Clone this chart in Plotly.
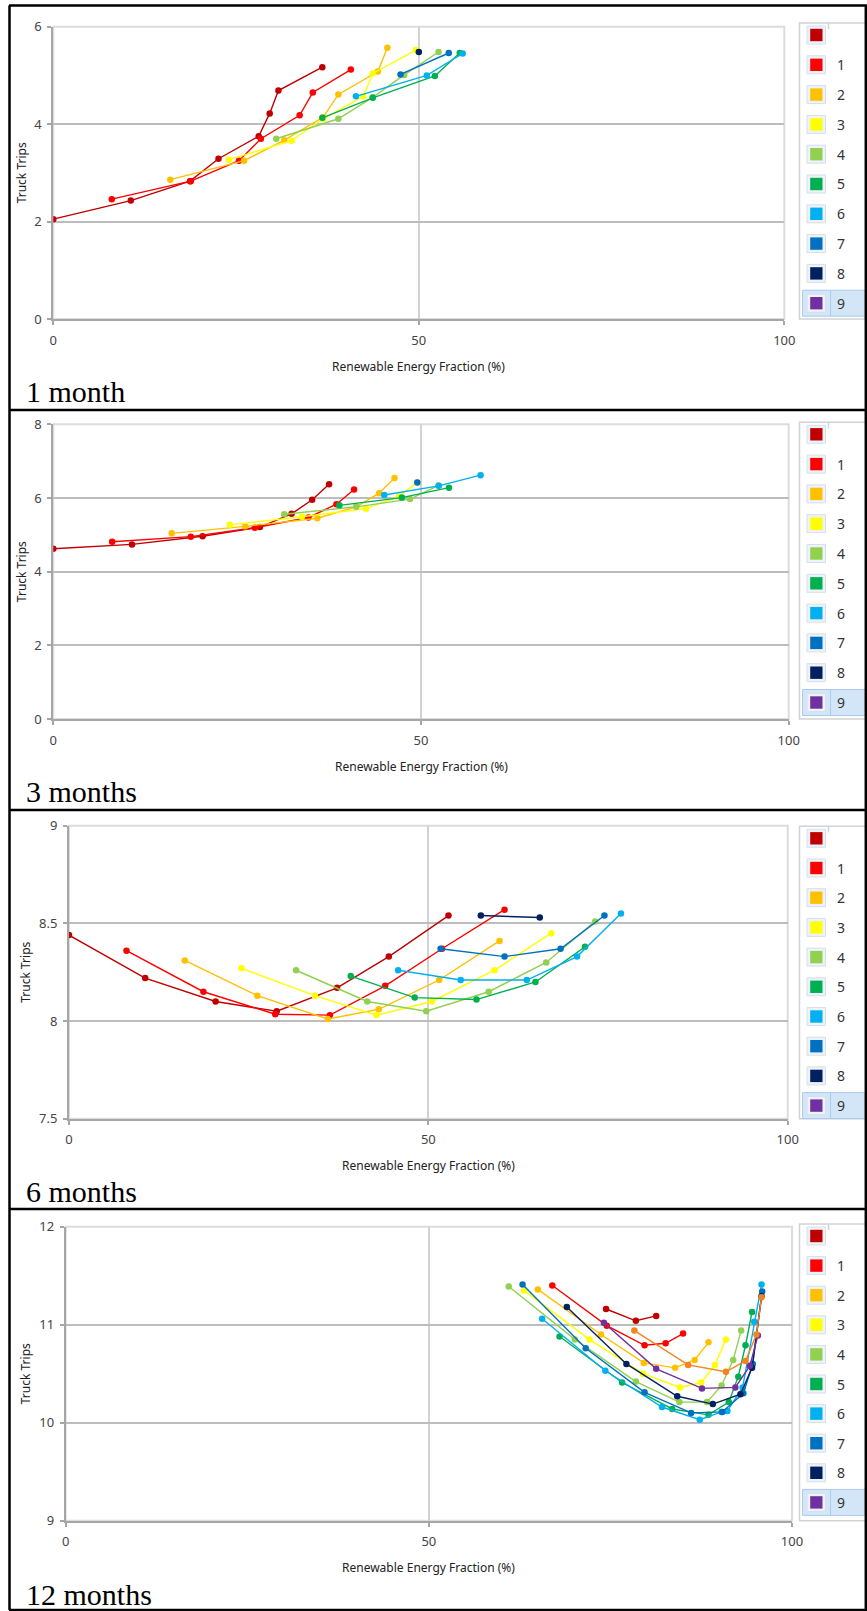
import plotly.graph_objects as go

W, H = 867, 1611

series_colors = ["#C00000", "#FF0000", "#FFC000", "#FFFF00", "#92D050",
                 "#00B050", "#00B0F0", "#0070C0", "#002060", "#7030A0",
                 "#F5841F"]
series_names = ["0", "1", "2", "3", "4", "5", "6", "7", "8", "9", "10"]
legend_labels = ["", "1", "2", "3", "4", "5", "6", "7", "8", "9"]

# ---- 1 month -------------------------------------------------------------
month1_x = [
    [0, 10.6, 18.7, 22.6, 28.1, 29.6, 30.8, 36.8],
    [8.0, 18.8, 25.4, 28.4, 33.7, 35.5, 40.7],
    [16.0, 26.1, 31.6, 36.9, 39.0, 44.4, 45.7],
    [24.0, 32.6, 36.9, 42.4, 43.7, 49.6],
    [30.5, 39.0, 43.7, 48.0, 52.7],
    [36.8, 43.7, 52.2, 55.6],
    [41.4, 51.1, 56.0],
    [47.5, 54.1],
    [50.0],
    [],
    [],
]
month1_y = [
    [2.05, 2.43, 2.83, 3.29, 3.75, 4.22, 4.69, 5.17],
    [2.46, 2.83, 3.25, 3.70, 4.18, 4.65, 5.12],
    [2.86, 3.25, 3.67, 4.14, 4.61, 5.08, 5.57],
    [3.27, 3.66, 4.11, 4.57, 5.04, 5.52],
    [3.70, 4.11, 4.55, 5.01, 5.48],
    [4.13, 4.54, 4.99, 5.46],
    [4.57, 5.00, 5.45],
    [5.02, 5.46],
    [5.48],
    [],
    [],
]

# ---- 3 months ------------------------------------------------------------
month3_x = [
    [0, 10.7, 20.3, 28.1, 32.4, 35.2, 37.5],
    [8.0, 18.7, 27.4, 34.7, 38.5, 40.9],
    [16.1, 26.1, 35.9, 41.2, 44.3, 46.4],
    [24.0, 33.8, 42.5, 47.0, 49.5],
    [31.4, 41.2, 48.5, 52.4],
    [38.9, 47.4, 53.8],
    [45.0, 52.4, 58.1],
    [49.5],
    [],
    [],
    [],
]
month3_y = [
    [4.62, 4.74, 4.96, 5.21, 5.57, 5.95, 6.37],
    [4.81, 4.95, 5.19, 5.47, 5.83, 6.23],
    [5.04, 5.23, 5.45, 5.76, 6.13, 6.54],
    [5.27, 5.49, 5.71, 6.04, 6.43],
    [5.56, 5.76, 5.97, 6.34],
    [5.80, 6.01, 6.28],
    [6.08, 6.33, 6.62],
    [6.42],
    [],
    [],
    [],
]

# ---- 6 months ------------------------------------------------------------
month6_x = [
    [0, 10.6, 20.4, 28.9, 37.3, 44.5, 52.8],
    [8.0, 18.7, 28.7, 36.3, 44.0, 51.9, 60.6],
    [16.1, 26.2, 36.0, 43.1, 51.5, 59.9],
    [24.0, 34.2, 42.8, 50.5, 59.2, 67.1],
    [31.6, 41.5, 49.7, 58.4, 66.4, 73.2],
    [39.2, 48.1, 56.7, 64.9, 71.8],
    [45.8, 54.5, 63.7, 70.7, 76.8],
    [51.7, 60.6, 68.4, 74.5],
    [57.3, 65.5],
    [],
    [],
]
month6_y = [
    [8.44, 8.22, 8.10, 8.05, 8.17, 8.33, 8.54],
    [8.36, 8.15, 8.035, 8.03, 8.18, 8.37, 8.57],
    [8.31, 8.13, 8.01, 8.06, 8.21, 8.41],
    [8.27, 8.13, 8.03, 8.10, 8.26, 8.45],
    [8.26, 8.10, 8.05, 8.15, 8.30, 8.51],
    [8.23, 8.12, 8.11, 8.20, 8.38],
    [8.26, 8.21, 8.21, 8.33, 8.55],
    [8.37, 8.33, 8.37, 8.54],
    [8.54, 8.53],
    [],
    [],
]

# ---- 12 months -----------------------------------------------------------
month12_x = [
    [74.4, 78.5, 81.3],
    [67.0, 74.5, 79.7, 82.6, 85.0],
    [65.0, 73.7, 79.6, 83.9, 86.6, 88.5],
    [63.1, 72.1, 79.5, 84.6, 87.5, 89.4, 90.9],
    [61.0, 70.1, 78.5, 84.5, 88.3, 90.3, 91.9, 93.0],
    [68.0, 76.6, 83.5, 88.5, 91.3, 92.6, 93.6, 94.5],
    [65.6, 74.3, 82.1, 87.3, 90.3, 91.1, 93.2, 94.8, 95.8],
    [62.9, 71.6, 79.7, 86.1, 90.4, 93.3, 94.6, 95.9],
    [69.0, 77.2, 84.2, 89.1, 92.9, 94.5, 95.8],
    [74.1, 81.3, 87.6, 92.2, 94.2, 95.3],
    [78.3, 85.7, 90.9, 93.6, 95.1, 95.8],
]
month12_y = [
    [11.16, 11.04, 11.09],
    [11.40, 10.99, 10.79, 10.81, 10.91],
    [11.36, 10.90, 10.61, 10.56, 10.64, 10.82],
    [11.35, 10.85, 10.50, 10.36, 10.41, 10.59, 10.85],
    [11.39, 10.85, 10.42, 10.21, 10.21, 10.38, 10.64, 10.94],
    [10.88, 10.41, 10.14, 10.08, 10.21, 10.47, 10.79, 11.13],
    [11.06, 10.53, 10.16, 10.03, 10.11, 10.12, 10.36, 11.03, 11.41],
    [11.41, 10.76, 10.31, 10.10, 10.11, 10.30, 10.60, 11.34],
    [11.18, 10.60, 10.27, 10.19, 10.29, 10.56, 11.29],
    [11.02, 10.55, 10.35, 10.36, 10.58, 10.89],
    [10.94, 10.59, 10.52, 10.63, 10.90, 11.28],
]

x_ticks = [0, 50, 100]

panels = [
    dict(label="1 month", x0=53.3, x1=784.3, yt=26.7, yb=319.0,
         yrange=[0, 6], yticks=[0, 2, 4, 6], xs=month1_x, ys=month1_y,
         label_y=391, leg_first=35.0, leg_step=29.8, ytitle_x=21.5),
    dict(label="3 months", x0=53.3, x1=788.7, yt=424.3, yb=719.0,
         yrange=[0, 8], yticks=[0, 2, 4, 6, 8], xs=month3_x, ys=month3_y,
         label_y=792, leg_first=434.3, leg_step=29.8, ytitle_x=21.5),
    dict(label="6 months", x0=69.0, x1=787.7, yt=825.7, yb=1118.7,
         yrange=[7.5, 9], yticks=[7.5, 8, 8.5, 9], xs=month6_x, ys=month6_y,
         label_y=1191, leg_first=838.3, leg_step=29.7, ytitle_x=25.5),
    dict(label="12 months", x0=65.7, x1=792.0, yt=1226.7, yb=1520.7,
         yrange=[9, 12], yticks=[9, 10, 11, 12], xs=month12_x, ys=month12_y,
         label_y=1594, leg_first=1236.0, leg_step=29.6, ytitle_x=25.5),
]


def px(x):
    return x / W


def py(y):
    return 1 - y / H


fig = go.Figure()
shapes = []
annotations = []

tick_font = dict(family="Noto Sans, Open Sans, sans-serif", size=13, color="#444444")
title_font = dict(family="Noto Sans, Open Sans, sans-serif", size=12, color="#222222")

for i, p in enumerate(panels):
    n = "" if i == 0 else str(i + 1)
    xa, ya = "xaxis" + n, "yaxis" + n
    xr, yr = "x" + n, "y" + n

    fig.layout[xa] = dict(
        domain=[px(p["x0"]), px(p["x1"])], range=[0, 100], anchor=yr,
        tickvals=x_ticks, ticks="outside", ticklen=4, tickwidth=1.5,
        tickcolor="#a6a6a6", showline=True, linecolor="#a6a6a6", linewidth=2,
        showgrid=True, gridcolor="#d2d2d2", gridwidth=2, zeroline=False,
        tickfont=tick_font, ticklabelstandoff=4, fixedrange=True,
        automargin=False,
    )
    fig.layout[ya] = dict(
        domain=[py(p["yb"]), py(p["yt"])], range=p["yrange"], anchor=xr,
        tickvals=p["yticks"], ticks="outside", ticklen=4, tickwidth=1.5,
        tickcolor="#a6a6a6", showline=True, linecolor="#a6a6a6", linewidth=2,
        showgrid=True, gridcolor="#bdbdbd", gridwidth=2, zeroline=False,
        tickfont=tick_font, ticklabelstandoff=3, fixedrange=True,
        automargin=False,
    )

    # light frame around the plot area
    shapes.append(dict(type="rect", xref="paper", yref="paper",
                       x0=px(p["x0"]), x1=px(p["x1"]),
                       y0=py(p["yb"]), y1=py(p["yt"]),
                       line=dict(color="#dcdcdc", width=2), layer="below"))

    # series
    for k, (xv, yv) in enumerate(zip(p["xs"], p["ys"])):
        if not xv:
            continue
        fig.add_trace(go.Scatter(
            x=xv, y=yv, xaxis=xr, yaxis=yr, mode="lines+markers",
            name=series_names[k], showlegend=False,
            line=dict(color=series_colors[k], width=1.4),
            marker=dict(color=series_colors[k], size=6.5),
        ))

    # axis titles
    annotations.append(dict(
        text="Truck Trips", xref="paper", yref="paper",
        x=px(p["ytitle_x"]), y=py((p["yt"] + p["yb"]) / 2), textangle=-90,
        showarrow=False, font=title_font, xanchor="center", yanchor="middle"))
    annotations.append(dict(
        text="Renewable Energy Fraction (%)", xref="paper", yref="paper",
        x=px((p["x0"] + p["x1"]) / 2), y=py(p["yb"] + 47),
        showarrow=False, font=title_font, xanchor="center", yanchor="middle"))

    # panel caption
    annotations.append(dict(
        text=p["label"], xref="paper", yref="paper",
        x=px(24), y=py(p["label_y"]), showarrow=False,
        font=dict(family="Liberation Serif, DejaVu Serif, serif", size=30, color="#000000"),
        xanchor="left", yanchor="middle"))

    # legend list box
    lt = p["leg_first"] - 12
    shapes.append(dict(type="rect", xref="paper", yref="paper",
                       x0=px(799.5), x1=px(872), y0=py(p["yb"]), y1=py(lt),
                       line=dict(color="#cfd3d8", width=1.5), fillcolor="#ffffff"))
    shapes.append(dict(type="line", xref="paper", yref="paper",
                       x0=px(828.5), x1=px(828.5), y0=py(lt), y1=py(lt + 6),
                       line=dict(color="#cfd3d8", width=1.5)))
    for j, lab in enumerate(legend_labels):
        cy = p["leg_first"] + j * p["leg_step"]
        if j == len(legend_labels) - 1:
            shapes.append(dict(type="rect", xref="paper", yref="paper",
                               x0=px(802.5), x1=px(872), y0=py(cy + 13), y1=py(cy - 13),
                               line=dict(color="#a9cbee", width=1), fillcolor="#d3e6f8"))
            shapes.append(dict(type="line", xref="paper", yref="paper",
                               x0=px(830.5), x1=px(830.5), y0=py(cy + 13), y1=py(cy - 13),
                               line=dict(color="#a9cbee", width=1)))
        shapes.append(dict(type="rect", xref="paper", yref="paper",
                           x0=px(807), x1=px(825.5), y0=py(cy + 9), y1=py(cy - 9),
                           line=dict(color="#d6dfea", width=1), fillcolor="#eef3f9"))
        shapes.append(dict(type="rect", xref="paper", yref="paper",
                           x0=px(810.2), x1=px(822.5), y0=py(cy + 6.2), y1=py(cy - 6.2),
                           line=dict(width=0), fillcolor=series_colors[j]))
        if lab:
            annotations.append(dict(
                text=lab, xref="paper", yref="paper", x=px(834.5), y=py(cy),
                showarrow=False, xanchor="left", yanchor="middle",
                font=dict(family="Noto Sans, Open Sans, sans-serif", size=14, color="#333333")))

# black panel frames
for yline in [5.5, 410, 810, 1209, 1610]:
    shapes.append(dict(type="line", xref="paper", yref="paper",
                       x0=px(9), x1=px(867), y0=py(yline), y1=py(yline),
                       line=dict(color="#000000", width=2.5)))
for xline in [9.5, 865.8]:
    shapes.append(dict(type="line", xref="paper", yref="paper",
                       x0=px(xline), x1=px(xline), y0=py(5.5), y1=py(1610),
                       line=dict(color="#000000", width=2.5)))

fig.update_layout(
    width=W, height=H,
    margin=dict(l=0, r=0, t=0, b=0, autoexpand=False),
    paper_bgcolor="#ffffff", plot_bgcolor="#ffffff",
    shapes=shapes, annotations=annotations, showlegend=False,
)

fig.write_html("out.html")
